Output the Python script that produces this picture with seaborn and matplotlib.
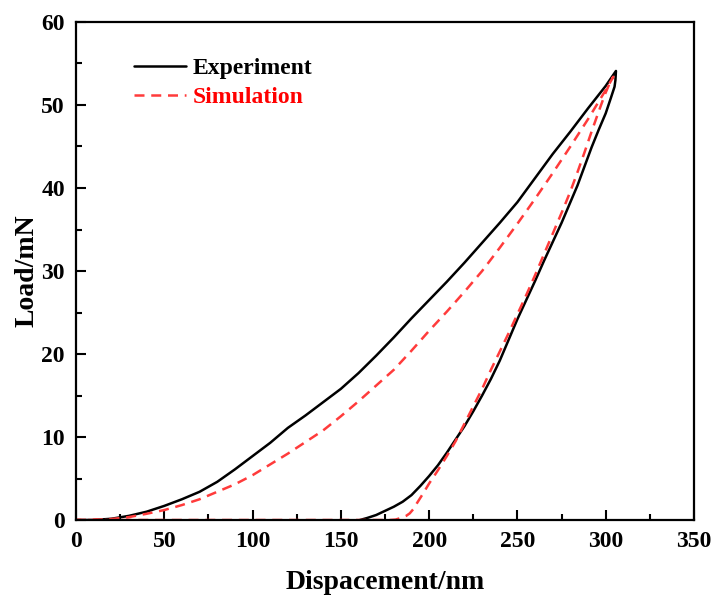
import numpy as np
import pandas as pd
import matplotlib
matplotlib.use("Agg")
import matplotlib.pyplot as plt
from matplotlib.ticker import MultipleLocator
import seaborn as sns

# Experimental load-displacement curve (loading branch, then unloading branch)
exp_load_x = [0, 10, 20, 30, 40, 50, 60, 70, 80, 90, 100, 110, 120, 130, 140,
              150, 160, 170, 180, 190, 200, 210, 220, 230, 240, 250, 260, 270,
              280, 290, 300, 305.8]
exp_load_y = [0, 0.0, 0.15, 0.5, 1.0, 1.7, 2.5, 3.4, 4.6, 6.1, 7.7, 9.3, 11.1,
              12.6, 14.2, 15.8, 17.7, 19.8, 22.0, 24.3, 26.5, 28.7, 31.0, 33.4,
              35.8, 38.3, 41.2, 44.1, 46.8, 49.6, 52.3, 54.1]
exp_unload_x = [305.8, 305.5, 305, 303, 300, 296, 292, 288, 284, 280, 275, 270,
                265, 260, 255, 250, 245, 240, 235, 230, 225, 220, 215, 210, 205,
                200, 195, 190, 185, 180, 175, 170, 165, 160.8]
exp_unload_y = [54.1, 53.0, 52.2, 50.9, 49.0, 47.0, 44.9, 42.6, 40.3, 38.3, 35.8,
                33.5, 31.2, 28.8, 26.5, 24.2, 21.7, 19.2, 17.0, 15.0, 13.1, 11.3,
                9.7, 8.1, 6.6, 5.3, 4.1, 3.0, 2.2, 1.6, 1.1, 0.6, 0.25, 0]

# Simulated load-displacement curve
sim_load_x = [0, 10, 20, 30, 40, 50, 60, 70, 80, 90, 100, 110, 120, 130, 140,
              150, 160, 170, 180, 190, 200, 210, 220, 230, 240, 250, 260, 270,
              280, 290, 300, 304.3]
sim_load_y = [0, 0.03, 0.12, 0.35, 0.75, 1.2, 1.8, 2.5, 3.4, 4.3, 5.4, 6.7, 8.0,
              9.4, 10.8, 12.5, 14.3, 16.2, 18.1, 20.4, 22.8, 25.1, 27.5, 30.0,
              32.8, 35.7, 38.7, 41.8, 45.0, 48.3, 51.8, 53.4]
sim_unload_x = [304.3, 302, 299.6, 296, 292, 288, 284, 280, 276, 270, 265, 260,
                255, 250, 245, 240, 235, 230, 225, 220, 215, 210, 205, 200, 196,
                193, 191, 189, 187, 184, 181, 177.8, 0]
sim_unload_y = [53.4, 52.5, 51.3, 49.2, 46.8, 44.3, 41.9, 39.6, 37.5, 34.5, 32.0,
                29.5, 27.1, 24.8, 22.5, 20.3, 18.1, 15.8, 13.7, 11.6, 9.5, 7.7,
                6.0, 4.4, 3.0, 2.0, 1.3, 0.8, 0.5, 0.25, 0.05, 0, 0]

x_ticks = [0, 50, 100, 150, 200, 250, 300, 350]
y_ticks = [0, 10, 20, 30, 40, 50, 60]

exp_df = pd.DataFrame({"disp": exp_load_x + exp_unload_x,
                       "load": exp_load_y + exp_unload_y})
sim_df = pd.DataFrame({"disp": sim_load_x + sim_unload_x,
                       "load": sim_load_y + sim_unload_y})

sns.set_style("ticks")
plt.rcParams["font.family"] = ["Liberation Serif", "DejaVu Serif"]
plt.rcParams["font.weight"] = "bold"
plt.rcParams["axes.labelweight"] = "bold"
plt.rcParams["text.color"] = "black"
plt.rcParams["axes.labelcolor"] = "black"
plt.rcParams["xtick.color"] = "black"
plt.rcParams["ytick.color"] = "black"

fig = plt.figure(figsize=(7.13, 5.97), dpi=100)
ax = fig.add_axes([76 / 713, 1 - 520 / 597, 618 / 713, 498 / 597])

sns.lineplot(data=exp_df, x="disp", y="load", sort=False, estimator=None,
             color="black", linewidth=1.8, label="Experiment", ax=ax)
sns.lineplot(data=sim_df, x="disp", y="load", sort=False, estimator=None,
             color="#ff3b3b", linewidth=1.8, linestyle=(0, (4, 2.7)),
             label="Simulation", ax=ax)

ax.set_xlim(0, 350)
ax.set_ylim(0, 60)
ax.set_xticks(x_ticks)
ax.set_yticks(y_ticks)
ax.xaxis.set_minor_locator(MultipleLocator(25))
ax.yaxis.set_minor_locator(MultipleLocator(5))
ax.tick_params(which="both", direction="in", width=1.5, colors="black",
               top=False, right=False)
ax.tick_params(which="major", length=7, labelsize=17, pad=8)
ax.tick_params(which="minor", length=4)
for lbl in ax.get_xticklabels() + ax.get_yticklabels():
    lbl.set_fontweight("bold")
for sp in ax.spines.values():
    sp.set_linewidth(1.6)
    sp.set_color("black")
    sp.set_visible(True)

ax.set_xlabel("Dispacement/nm", fontsize=20, fontweight="bold", labelpad=13)
ax.set_ylabel("Load/mN", fontsize=20, fontweight="bold", labelpad=1)

leg = ax.legend(loc="upper left", bbox_to_anchor=(0.059, 0.971), frameon=False,
                handlelength=2.2, handletextpad=0.3, labelspacing=0.3,
                prop={"size": 17, "weight": "bold"},
                labelcolor=["black", "red"])

fig.savefig("out.png", dpi=100)
